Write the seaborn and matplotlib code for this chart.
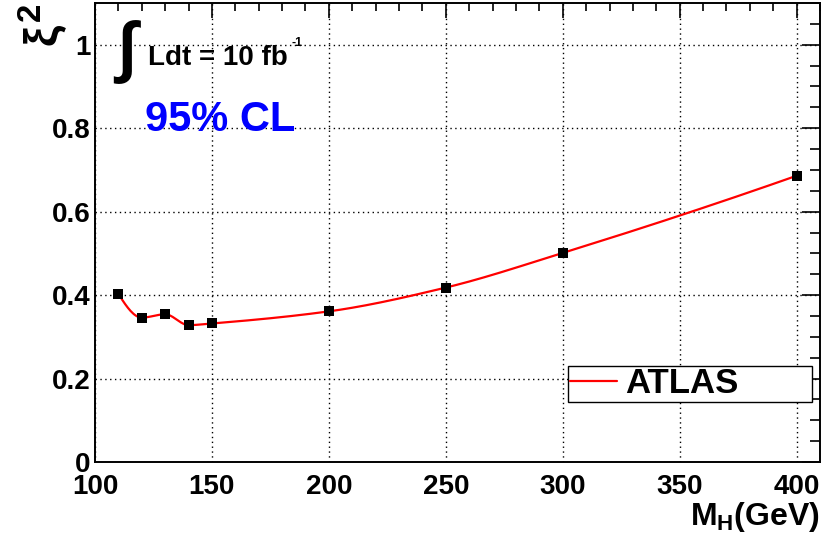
import numpy as np
import pandas as pd
import matplotlib
matplotlib.use("Agg")
import matplotlib.pyplot as plt
import seaborn as sns
from matplotlib.ticker import MultipleLocator, FixedLocator, FixedFormatter
from matplotlib.font_manager import FontProperties

# ---- data ----
mass = [110, 120, 130, 140, 150, 200, 250, 300, 400]
xi2 = [0.403, 0.346, 0.354, 0.328, 0.332, 0.361, 0.418, 0.501, 0.686]
x_ticks = [100, 150, 200, 250, 300, 350, 400]
x_tick_labels = ["100", "150", "200", "250", "300", "350", "400"]
y_ticks = [0, 0.2, 0.4, 0.6, 0.8, 1.0]
y_tick_labels = ["0", "0.2", "0.4", "0.6", "0.8", "1"]
series_label = "ATLAS"


def pchip_curve(x, y, num=500):
    """Monotone (Fritsch-Carlson) smooth curve through the points."""
    x = np.asarray(x, float)
    y = np.asarray(y, float)
    n = len(x)
    h = np.diff(x)
    d = np.diff(y) / h
    m = np.zeros(n)
    for i in range(1, n - 1):
        if d[i - 1] * d[i] > 0:
            w1 = 2 * h[i] + h[i - 1]
            w2 = h[i] + 2 * h[i - 1]
            m[i] = (w1 + w2) / (w1 / d[i - 1] + w2 / d[i])
        else:
            m[i] = 0.0
    m[0] = ((2 * h[0] + h[1]) * d[0] - h[0] * d[1]) / (h[0] + h[1])
    if np.sign(m[0]) != np.sign(d[0]):
        m[0] = 0
    m[-1] = ((2 * h[-1] + h[-2]) * d[-1] - h[-1] * d[-2]) / (h[-1] + h[-2])
    if np.sign(m[-1]) != np.sign(d[-1]):
        m[-1] = 0
    xs = np.linspace(x[0], x[-1], num)
    ys = np.empty_like(xs)
    for k, xv in enumerate(xs):
        i = min(np.searchsorted(x, xv, side="right") - 1, n - 2)
        t = (xv - x[i]) / h[i]
        h00 = 2 * t ** 3 - 3 * t ** 2 + 1
        h10 = t ** 3 - 2 * t ** 2 + t
        h01 = -2 * t ** 3 + 3 * t ** 2
        h11 = t ** 3 - t ** 2
        ys[k] = h00 * y[i] + h10 * h[i] * m[i] + h01 * y[i + 1] + h11 * h[i] * m[i + 1]
    return xs, ys


sns.set_theme(style="white")
plt.rcParams["font.family"] = ["Liberation Sans", "DejaVu Sans"]
plt.rcParams["font.weight"] = "bold"
plt.rcParams["text.color"] = "black"
plt.rcParams["axes.labelcolor"] = "black"
plt.rcParams["xtick.color"] = "black"
plt.rcParams["ytick.color"] = "black"
plt.rcParams["mathtext.fontset"] = "custom"
plt.rcParams["mathtext.rm"] = "Liberation Sans:bold"
plt.rcParams["mathtext.bf"] = "Liberation Sans:bold"
plt.rcParams["mathtext.it"] = "Liberation Sans:bold"

W, H = 823, 547
fig = plt.figure(figsize=(W / 100, H / 100), dpi=100)
ax_l, ax_r, ax_t, ax_b = 95, 820, 3, 462
ax = fig.add_axes([ax_l / W, 1 - ax_b / H, (ax_r - ax_l) / W, (ax_b - ax_t) / H])


def axc(px, py):
    return (px - ax_l) / (ax_r - ax_l), (ax_b - py) / (ax_b - ax_t)


xs, ys = pchip_curve(mass, xi2)
curve = pd.DataFrame({"mass": xs, "xi2": ys})
points = pd.DataFrame({"mass": mass, "xi2": xi2})

sns.lineplot(data=curve, x="mass", y="xi2", color="red", linewidth=1.6,
             label=series_label, ax=ax, zorder=3)
sns.scatterplot(data=points, x="mass", y="xi2", marker="s", s=55, color="black",
                edgecolor="black", linewidth=0, legend=False, ax=ax, zorder=4)

ax.set_xlim(100, 410)
ax.set_ylim(0, 1.1)
ax.xaxis.set_major_locator(FixedLocator(x_ticks))
ax.xaxis.set_major_formatter(FixedFormatter(x_tick_labels))
ax.xaxis.set_minor_locator(MultipleLocator(10))
ax.yaxis.set_major_locator(FixedLocator(y_ticks))
ax.yaxis.set_major_formatter(FixedFormatter(y_tick_labels))
ax.yaxis.set_minor_locator(MultipleLocator(0.05))

ax.grid(True, which="major", color="black", linestyle=(0, (1, 2.5)), linewidth=1.0)
for s in ax.spines.values():
    s.set_color("black")
    s.set_linewidth(1.4)

ax.tick_params(axis="both", which="both", direction="in", top=True, right=True,
               color="black", width=1.2, labelsize=20, labelcolor="black")
ax.tick_params(axis="x", which="major", length=11, pad=9)
ax.tick_params(axis="x", which="minor", length=5.5)
ax.tick_params(axis="y", which="major", length=13, pad=3)
ax.tick_params(axis="y", which="minor", length=7)
for lab in ax.get_xticklabels() + ax.get_yticklabels():
    lab.set_fontweight("bold")

ax.set_xlabel(r"$\mathbf{M}_{\mathbf{H}}$(GeV)", fontsize=23, fontweight="bold",
              loc="right")
ax.xaxis.set_label_coords(1.0, axc(0, 500)[1])
ax.set_ylabel(r"$\xi^{2}$", fontsize=34, fontweight="bold", loc="top",
              family="DejaVu Sans")
ax.yaxis.set_label_coords(axc(70, 0)[0], axc(0, 4)[1])

# annotations
ax.text(*axc(128, 52), r"$\int$", transform=ax.transAxes, fontsize=48,
        ha="center", va="center", family="DejaVu Sans")
ax.text(*axc(148, 65), "Ldt = 10 fb", transform=ax.transAxes, fontsize=20,
        fontweight="bold", ha="left", va="baseline")
ax.text(*axc(291, 46), "-1", transform=ax.transAxes, fontsize=9,
        fontweight="bold", ha="left", va="baseline")
ax.text(*axc(145, 131), "95% CL", transform=ax.transAxes, fontsize=30,
        fontweight="bold", color="#0000ff", ha="left", va="baseline")

x0, y0 = axc(568, 402)
x1, y1 = axc(812, 365)
leg_font = FontProperties(family="Liberation Sans", weight="bold", size=25)
leg = ax.legend(loc="lower left", bbox_to_anchor=(x0, y0, x1 - x0, y1 - y0),
                mode="expand", borderaxespad=0, frameon=True, fancybox=False,
                framealpha=1, edgecolor="black", borderpad=0.05,
                handlelength=1.35, handletextpad=0.25, prop=leg_font)
leg.get_frame().set_linewidth(1.0)
for t in leg.get_texts():
    t.set_color("black")
    t.set_fontweight("bold")

fig.savefig("out.png", dpi=100)
